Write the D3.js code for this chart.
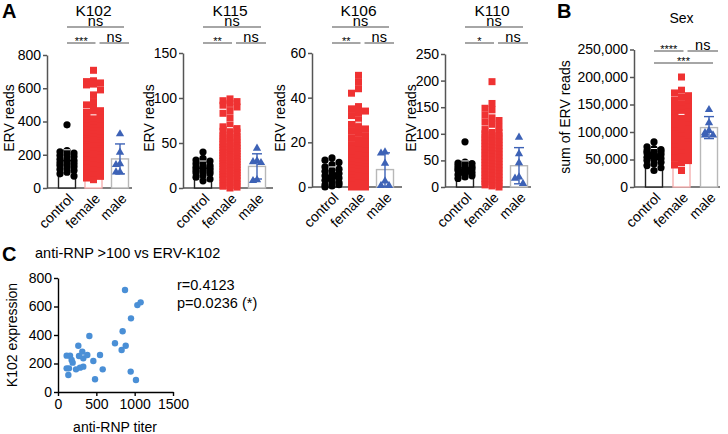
<!DOCTYPE html>
<html><head><meta charset="utf-8">
<script src="https://cdn.jsdelivr.net/npm/d3@7"></script>
<style>body{margin:0;background:#fff}svg{font-family:"Liberation Sans",Arial,sans-serif}</style>
</head><body><svg id="c" width="728" height="434"></svg>
<script>
// ---------------- DATA ----------------
const groups = ["control", "female", "male"];

const k102Control = [380, 225, 218, 210, 205, 195, 190, 180, 172, 165, 160, 152, 148, 140, 135, 128, 120, 112, 105, 95, 85, 72];
const k102Female = [708, 645, 640, 632, 625, 620, 590, 560, 520, 500, 480, 465, 455, 445, 440, 430, 425, 420, 410, 400, 395, 390, 380, 375, 370, 360, 355, 350, 345, 340, 330, 325, 320, 310, 305, 300, 295, 290, 285, 280, 275, 270, 260, 255, 250, 245, 240, 235, 230, 225, 220, 210, 205, 200, 190, 185, 180, 170, 160, 150, 145, 140, 130, 120, 110, 100, 90, 80, 70, 60, 50];
const k102Male = [330, 220, 150, 145, 100, 100];
const k102Mean = [165, 300, 175];
const k102SD = [65, 140, 90];

const k115Control = [40, 33, 31, 30, 28, 27, 25, 24, 23, 22, 21, 20, 19, 18, 17, 16, 14, 12, 10, 8];
const k115Female = [99, 97, 96, 94, 92, 90, 86, 83, 78, 70, 68, 66, 65, 63, 62, 60, 58, 57, 56, 55, 54, 52, 51, 50, 49, 48, 47, 46, 45, 44, 43, 42, 41, 40, 39, 38, 37, 36, 35, 34, 33, 32, 31, 30, 29, 28, 27, 26, 25, 24, 23, 22, 21, 20, 19, 18, 17, 16, 15, 14, 13, 12, 11, 10, 9, 8, 6, 5, 4, 3, 2, 1, 0];
const k115Male = [45, 31, 30, 29, 10, 9];
const k115Mean = [22, 42, 24];
const k115SD = [8, 25, 14];

const k106Control = [13, 12, 11, 10, 9, 8, 7.5, 7, 6, 6, 5, 5, 4, 4, 3, 3, 2, 2, 1, 1, 0.5, 0];
const k106Female = [50, 47, 44, 42, 36, 35, 34, 33, 32, 30, 28, 27, 26, 25, 24, 23, 22, 21, 20, 19, 18.5, 18, 17, 16.5, 16, 15, 14.5, 14, 13, 12.5, 12, 11.5, 11, 10.5, 10, 9.5, 9, 8.5, 8, 7.5, 7, 6.5, 6, 5.5, 5, 4.5, 4, 3.5, 3, 2.5, 2, 1.5, 1, 0.5, 0, 0, 0];
const k106Male = [16, 15.5, 11, 3, 1, 1];
const k106Mean = [5, 17, 7.8];
const k106SD = [4, 12, 7.5];

const k110Control = [85, 47, 45, 44, 42, 40, 38, 37, 35, 34, 33, 31, 30, 28, 27, 25, 23, 21, 19, 16];
const k110Female = [198, 157, 148, 145, 135, 130, 125, 122, 118, 112, 108, 105, 102, 100, 98, 96, 94, 92, 90, 88, 86, 84, 82, 80, 78, 76, 74, 72, 70, 68, 66, 64, 62, 60, 58, 56, 54, 52, 50, 48, 46, 44, 42, 40, 38, 36, 34, 32, 30, 28, 26, 24, 22, 20, 18, 16, 14, 12, 10, 8, 6, 4, 2, 0];
const k110Male = [95, 64, 47, 20, 18, 8];
const k110Mean = [36, 68, 40];
const k110SD = [13, 42, 34];

const sexControl = [82000, 73000, 70000, 68000, 66000, 65000, 64000, 62000, 61000, 59000, 57000, 55000, 54000, 52000, 50000, 48000, 45000, 42000, 39000, 35000, 30000];
const sexFemale = [200000, 176000, 171000, 166000, 163000, 158000, 155000, 151000, 148000, 145000, 142000, 140000, 137000, 135000, 132000, 130000, 128000, 126000, 124000, 122000, 120000, 118000, 116000, 114000, 112000, 110000, 108000, 106000, 104000, 102000, 100000, 98000, 96000, 94000, 92000, 90000, 88000, 86000, 84000, 82000, 80000, 78000, 76000, 74000, 72000, 70000, 68000, 66000, 64000, 62000, 60000, 58000, 55000, 52000, 48000, 44000, 40000, 30000];
const sexMale = [142000, 118000, 104000, 100000, 96000, 96000];
const sexMean = [57000, 100000, 108000];
const sexSD = [13000, 32000, 20000];

const k102Ticks = [0, 200, 400, 600, 800];
const k115Ticks = [0, 50, 100, 150];
const k106Ticks = [0, 20, 40, 60];
const k110Ticks = [0, 50, 100, 150, 200, 250];
const sexTicks = [0, 50000, 100000, 150000, 200000, 250000];

const rnpTiter = [113, 157, 178, 113, 143, 135, 191, 265, 274, 317, 330, 382, 235, 287, 330, 409, 461, 548, 583, 483, 743, 843, 883, 830, 948, 1017, 952, 874, 1035, 1078];
const k102Expr = [255, 255, 225, 166, 166, 119, 206, 325, 253, 283, 236, 260, 159, 171, 178, 393, 218, 260, 159, 89, 342, 426, 325, 295, 143, 84, 517, 716, 610, 629];
const rnpXTicks = [0, 500, 1000, 1500];
const rnpYTicks = [0, 200, 400, 600, 800];

// ---------------- DRAW ----------------
const svg = d3.select("#c");
const RED = "#ef3232", BLUE = "#3d62b6", AXIS = "#555";
const barStroke = ["#222", "#f6b0b0", "#b8b8b8"];

function swarm(values, y, cx, size, maxOff) {
  const pts = values.map(v => ({v, y: y(v)})).sort((a, b) => a.y - b.y);
  const placed = [];
  const step = size * 0.5;
  const nSteps = Math.floor(maxOff / step);
  for (const p of pts) {
    let best = null, bestCost = Infinity;
    for (let k = 0; k <= nSteps; k++) {
      for (const s of (k === 0 ? [0] : [-1, 1])) {
        const x = cx + s * k * step;
        let cost = 0;
        for (const q of placed) {
          const dx = Math.abs(q.x - x), dy = Math.abs(q.y - p.y);
          if (dx < size * 0.9 && dy < size * 0.9) cost += (size * 0.9 - dx) * (size * 0.9 - dy);
        }
        cost += k * 0.01;
        if (cost < bestCost) { bestCost = cost; best = x; }
      }
    }
    p.x = best; placed.push(p);
  }
  return placed;
}

function strip(o) {
  const g = svg.append("g");
  const y = d3.scaleLinear().domain([o.ticks[0], o.ticks[o.ticks.length - 1]]).range(o.yRange);
  const x = d3.scalePoint().domain(groups).range([o.axisX + 20, o.axisX + o.span]);
  const bw = 17;
  const base = y(0);
  const ax = g.append("g").attr("transform", `translate(${o.axisX},0)`)
    .call(d3.axisLeft(y).tickValues(o.ticks).tickSize(4).tickSizeOuter(0).tickPadding(2).tickFormat(o.fmt || d3.format("d")));
  ax.select(".domain").attr("stroke", AXIS).attr("stroke-width", 1.5);
  ax.selectAll(".tick line").attr("stroke", AXIS).attr("stroke-width", 1.5);
  ax.selectAll(".tick text").attr("font-size", 14).attr("fill", "#000").attr("font-family", "Liberation Sans, Arial, sans-serif");
  g.append("line").attr("x1", o.axisX).attr("x2", o.axisX + o.xEnd).attr("y1", base).attr("y2", base)
    .attr("stroke", AXIS).attr("stroke-width", 1.5);
  groups.forEach((grp, i) => {
    g.append("rect").attr("x", x(grp) - bw / 2).attr("y", y(o.means[i])).attr("width", bw)
      .attr("height", base - y(o.means[i])).attr("fill", "#fff").attr("stroke", barStroke[i]).attr("stroke-width", 1.4);
  });
  // male error bar (blue, SD)
  {
    const cx = x("male");
    const top = y(o.means[2] + o.sds[2]), bot = y(Math.max(0, o.means[2] - o.sds[2]));
    g.append("line").attr("x1", cx).attr("x2", cx).attr("y1", top).attr("y2", bot).attr("stroke", BLUE).attr("stroke-width", 1.4);
    [top, bot].forEach(yy => g.append("line").attr("x1", cx - 5).attr("x2", cx + 5).attr("y1", yy).attr("y2", yy).attr("stroke", BLUE).attr("stroke-width", 1.4));
  }
  const ctrl = swarm(o.data[0], y, x("control"), 7, 7);
  g.selectAll(null).data(ctrl).join("circle").attr("cx", d => d.x).attr("cy", d => d.y).attr("r", 3.6).attr("fill", "#000");
  const fem = swarm(o.data[1], y, x("female"), 7, 7);
  g.selectAll(null).data(fem).join("rect").attr("x", d => d.x - 3.5).attr("y", d => d.y - 3.5).attr("width", 7).attr("height", 7).attr("fill", RED);
  const mal = swarm(o.data[2], y, x("male"), 8, 7);
  const tri = d3.symbol().type(d3.symbolTriangle).size(30);
  g.selectAll(null).data(mal).join("path").attr("d", tri).attr("transform", d => `translate(${d.x},${d.y + 0.8})`).attr("fill", BLUE);
  // faint SD caps for control and female (drawn over the points)
  [0, 1].forEach(i => {
    const cx = x(groups[i]);
    const top = y(o.means[i] + o.sds[i]);
    g.append("line").attr("x1", cx - 3).attr("x2", cx + 3).attr("y1", top).attr("y2", top).attr("stroke", "#fff").attr("stroke-width", 1);
  });
  groups.forEach(grp => {
    g.append("text").attr("transform", `translate(${x(grp) + 4},${base + 8}) rotate(-45)`)
      .attr("text-anchor", "end").attr("dy", "0.35em").attr("font-size", 14).text(grp);
  });
  g.append("text").attr("x", (x("control") + x("male")) / 2).attr("y", o.titleY).attr("text-anchor", "middle")
    .attr("font-size", o.titleSize).text(o.title);
  g.append("text").attr("transform", `translate(${o.axisX - o.yLabOff},${o.yLabY}) rotate(-90)`)
    .attr("text-anchor", "middle").attr("dominant-baseline", "central").attr("font-size", 14).text(o.yLabel);
  const c0 = x("control"), c1 = x("female"), c2 = x("male");
  o.brackets.forEach(b => {
    const x1 = [c0, c0, c1 + 6][b.k], x2 = [c2 + 4, c1 + 2, c2 + 9][b.k];
    g.append("line").attr("x1", x1).attr("x2", x2).attr("y1", b.y).attr("y2", b.y).attr("stroke", "#888").attr("stroke-width", 1.5);
    const star = b.t !== "ns";
    g.append("text").attr("x", (x1 + x2) / 2).attr("y", star ? b.y + 2 : b.y - 1.5).attr("text-anchor", "middle")
      .attr("font-size", star ? 11 : 14.5).text(b.t);
  });
}

strip({axisX: 47, yRange: [188, 55], ticks: k102Ticks, span: 73, xEnd: 85, data: [k102Control, k102Female, k102Male],
  means: k102Mean, sds: k102SD, title: "K102", titleY: 16, titleSize: 15.5, yLabel: "ERV reads", yLabOff: 38, yLabY: 118,
  brackets: [{k: 0, y: 27, t: "ns"}, {k: 1, y: 43, t: "***"}, {k: 2, y: 43, t: "ns"}]});
strip({axisX: 183, yRange: [188, 53], ticks: k115Ticks, span: 74, xEnd: 90, data: [k115Control, k115Female, k115Male],
  means: k115Mean, sds: k115SD, title: "K115", titleY: 16, titleSize: 15.5, yLabel: "ERV reads", yLabOff: 34, yLabY: 118,
  brackets: [{k: 0, y: 27, t: "ns"}, {k: 1, y: 43, t: "**"}, {k: 2, y: 43, t: "ns"}]});
strip({axisX: 312, yRange: [187, 53], ticks: k106Ticks, span: 73, xEnd: 90, data: [k106Control, k106Female, k106Male],
  means: k106Mean, sds: k106SD, title: "K106", titleY: 16, titleSize: 15.5, yLabel: "ERV reads", yLabOff: 32, yLabY: 118,
  brackets: [{k: 0, y: 27, t: "ns"}, {k: 1, y: 43, t: "**"}, {k: 2, y: 43, t: "ns"}]});
strip({axisX: 445, yRange: [187, 54], ticks: k110Ticks, span: 74, xEnd: 86, data: [k110Control, k110Female, k110Male],
  means: k110Mean, sds: k110SD, title: "K110", titleY: 16, titleSize: 15.5, yLabel: "ERV reads", yLabOff: 34, yLabY: 118,
  brackets: [{k: 0, y: 27, t: "ns"}, {k: 1, y: 43, t: "*"}, {k: 2, y: 43, t: "ns"}]});
strip({axisX: 634, yRange: [187, 49.5], ticks: sexTicks, span: 75, xEnd: 86, fmt: d3.format(","), data: [sexControl, sexFemale, sexMale],
  means: sexMean, sds: sexSD, title: "Sex", titleY: 23, titleSize: 14, yLabel: "sum of ERV reads", yLabOff: 69, yLabY: 117,
  brackets: [{k: 1, y: 51, t: "****"}, {k: 2, y: 51, t: "ns"}, {k: 0, y: 63, t: "***"}]});

[["A", 2, 18], ["B", 557, 18], ["C", 2, 261]].forEach(([t, xx, yy]) =>
  svg.append("text").attr("x", xx).attr("y", yy).attr("font-size", 20).attr("font-weight", "bold").text(t));

{
  const g = svg.append("g");
  const x = d3.scaleLinear().domain([0, 1500]).range([58, 173]);
  const y = d3.scaleLinear().domain([0, 800]).range([392, 278]);
  const ya = g.append("g").attr("transform", "translate(58,0)")
    .call(d3.axisLeft(y).tickValues(rnpYTicks).tickSize(4).tickSizeOuter(0).tickPadding(2).tickFormat(d3.format("d")));
  const xa = g.append("g").attr("transform", "translate(0,392)")
    .call(d3.axisBottom(x).tickValues(rnpXTicks).tickSize(4).tickSizeOuter(0).tickPadding(3).tickFormat(d3.format("d")));
  [ya, xa].forEach(a => {
    a.select(".domain").attr("stroke", "#000").attr("stroke-width", 1.4);
    a.selectAll(".tick line").attr("stroke", "#000").attr("stroke-width", 1.4);
    a.selectAll(".tick text").attr("font-size", 14).attr("fill", "#000").attr("font-family", "Liberation Sans, Arial, sans-serif");
  });
  g.selectAll(null).data(rnpTiter).join("circle").attr("cx", d => x(d)).attr("cy", (d, i) => y(k102Expr[i]))
    .attr("r", 3.2).attr("fill", "#4a8fd6");
  g.append("text").attr("x", 35).attr("y", 258).attr("font-size", 14.5).text("anti-RNP >100 vs ERV-K102");
  g.append("text").attr("x", 115).attr("y", 432).attr("text-anchor", "middle").attr("font-size", 14).text("anti-RNP titer");
  g.append("text").attr("transform", "translate(12,335) rotate(-90)").attr("text-anchor", "middle")
    .attr("dominant-baseline", "central").attr("font-size", 14).text("K102 expression");
  g.append("text").attr("x", 177).attr("y", 290).attr("font-size", 14.5).text("r=0.4123");
  g.append("text").attr("x", 177).attr("y", 308).attr("font-size", 14.5).text("p=0.0236 (*)");
}
</script></body></html>
